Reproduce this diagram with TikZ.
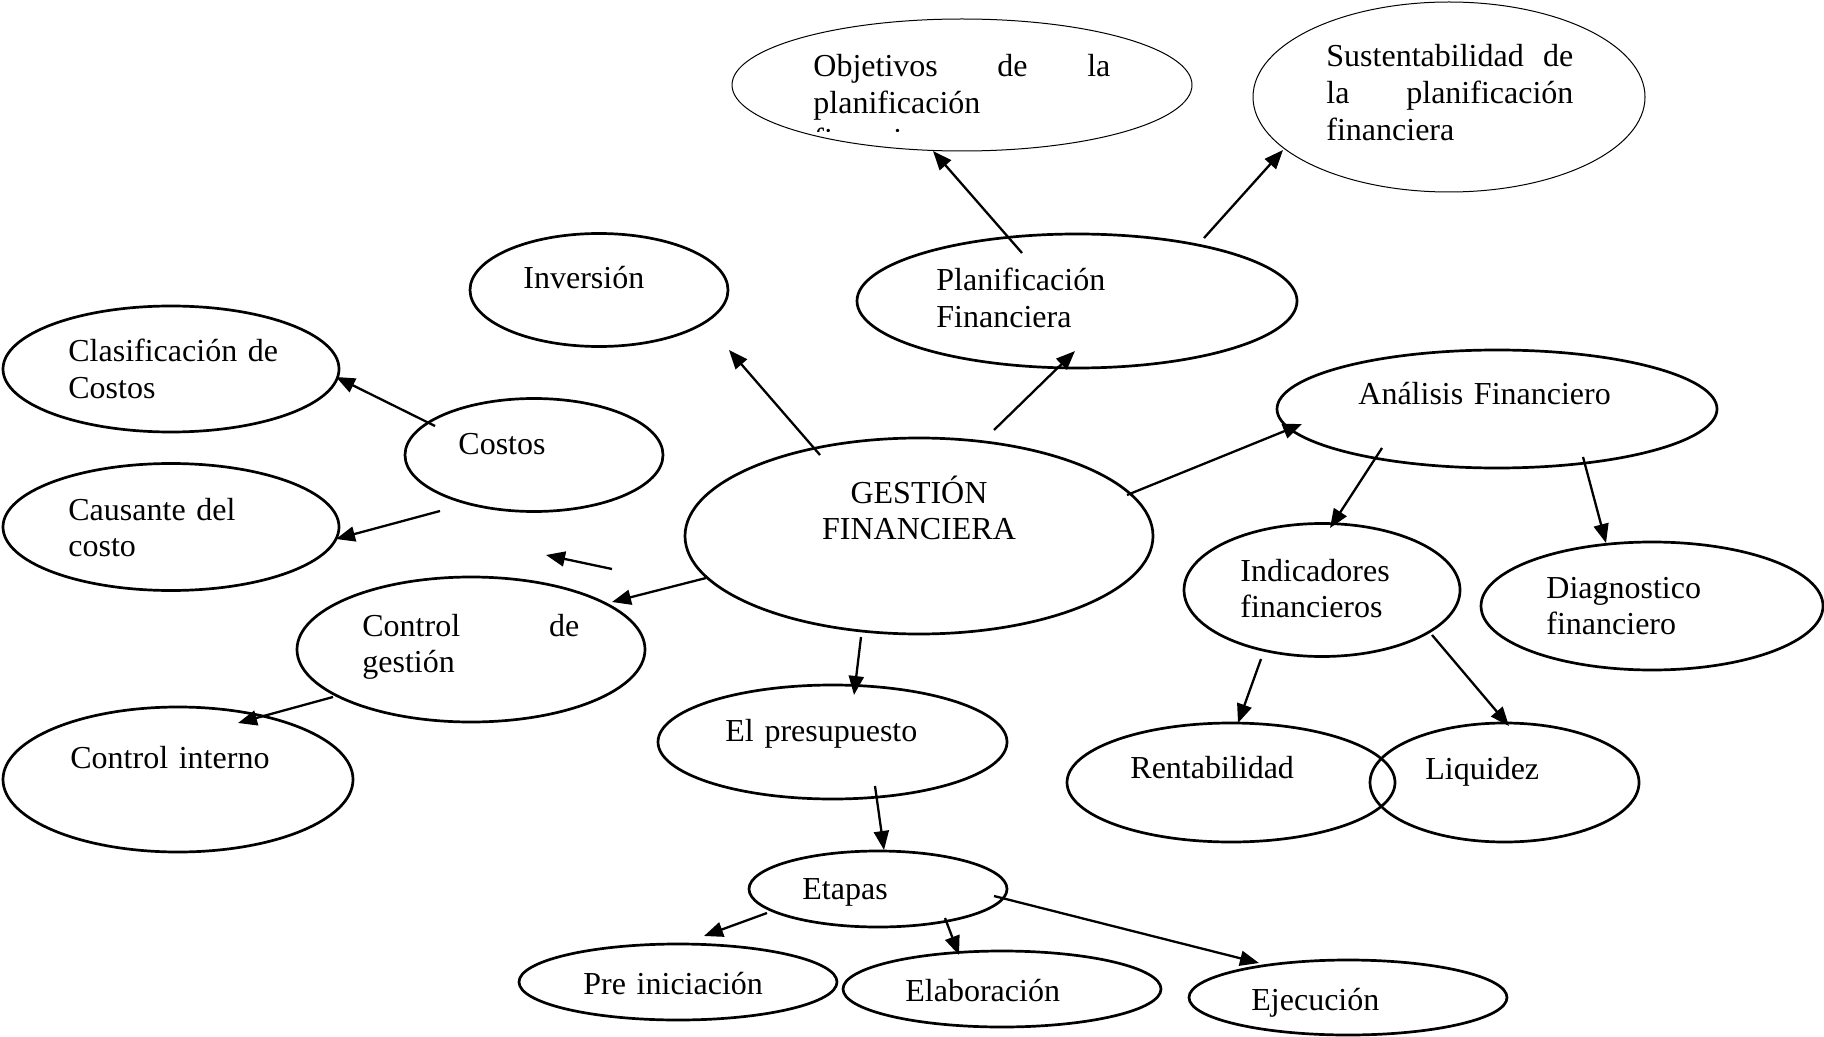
\documentclass[tikz,border=0pt]{standalone}
\usepackage{fontspec}
\setmainfont{Liberation Serif}
\usetikzlibrary{shapes.geometric,arrows.meta,calc}
\hyphenpenalty=10000 \exhyphenpenalty=10000 \hbadness=10000
\begin{document}
\begin{tikzpicture}[x=0.5pt,y=-0.5pt,
  ell/.style={draw, ellipse, line width=1.35pt, inner sep=0pt},
  thinell/.style={draw, ellipse, line width=0.5pt, inner sep=0pt},
  txt/.style={anchor=base west, inner sep=0pt, align=left, text width=#1,
              font=\fontsize{16}{18.4}\selectfont},
  txt/.default=220pt,
  arr/.style={line width=1.15pt, -{Triangle[length=9.5pt,width=7.5pt]}}]
\fill[white] (0,0) rectangle (1824,1037);
\useasboundingbox (0,0) rectangle (1824,1037);

% ellipses (sizes in pt = half the pixel size)
\node[thinell, minimum width=230pt, minimum height=66pt] (obj)  at (962,85) {};
\node[thinell, minimum width=196pt, minimum height=95pt] (sus)  at (1449,97) {};
\node[ell, minimum width=129pt, minimum height=56.5pt] (inv)  at (599,290) {};
\node[ell, minimum width=220pt, minimum height=67pt] (plan) at (1077,301) {};
\node[ell, minimum width=168pt, minimum height=63pt] (clas) at (171,369) {};
\node[ell, minimum width=129pt, minimum height=56.5pt] (cost) at (534,455) {};
\node[ell, minimum width=168pt, minimum height=63.5pt] (caus) at (171,527) {};
\node[ell, minimum width=234pt, minimum height=98pt] (gest) at (919,536) {};
\node[ell, minimum width=220pt, minimum height=59pt] (anal) at (1497,409) {};
\node[ell, minimum width=138pt, minimum height=66.5pt] (ind)  at (1322,590) {};
\node[ell, minimum width=171pt, minimum height=64pt] (diag) at (1652,606) {};
\node[ell, minimum width=174pt, minimum height=72.5pt] (cg)   at (471,649.5) {};
\node[ell, minimum width=175pt, minimum height=72.5pt] (ci)   at (178,779.5) {};
\node[ell, minimum width=174.5pt, minimum height=57pt] (pres) at (832.5,742) {};
\node[ell, minimum width=164pt, minimum height=59.5pt] (rent) at (1231,782.5) {};
\node[ell, minimum width=134.5pt, minimum height=59.5pt] (liq)  at (1504.5,782.5) {};
\node[ell, minimum width=129pt, minimum height=38pt]  (eta)  at (878,889) {};
\node[ell, minimum width=159pt, minimum height=38pt]  (pre)  at (678,982) {};
\node[ell, minimum width=159pt, minimum height=38pt]  (ela)  at (1002,989) {};
\node[ell, minimum width=159pt, minimum height=37.5pt]  (eje)  at (1348,997.5) {};

% texts
\begin{scope}
\clip (700,0) rectangle (1200,132);
\node[txt=148.5pt] (tobj) at (813,77) {Objetivos\hfill de\hfill la\\planificación\\financiera};
\end{scope}
\node[txt=123.5pt] (tsus) at (1326,67) {Sustentabilidad\hfill de\\la\hfill planificación\\financiera};
\node[txt] (tinv)  at (523,289)  {Inversión};
\node[txt] (tplan) at (936,291)  {Planificación\\Financiera};
\node[txt] (tclas) at (68,362)   {Clasificación de\\Costos};
\node[txt] (tcost) at (458,454)  {Costos};
\node[txt] (tcaus) at (68,520)   {Causante del\\costo};
\node[txt=200pt, anchor=base, align=center] (tgest) at (919,503) {GESTIÓN\\FINANCIERA};
\node[txt] (tanal) at (1358,404) {Análisis Financiero};
\node[txt] (tind)  at (1240,581) {Indicadores\\financieros};
\node[txt] (tdiag) at (1546,598) {Diagnostico\\financiero};
\node[txt=108.5pt] (tcg) at (362,636) {Control\hfill de\\gestión};
\node[txt] (tci)   at (70,768)   {Control interno};
\node[txt] (tpres) at (725,741)  {El presupuesto};
\node[txt] (trent) at (1130,778) {Rentabilidad};
\node[txt] (tliq)  at (1425,779) {Liquidez};
\node[txt] (teta)  at (802,899)  {Etapas};
\node[txt] (tpre)  at (583,994)  {Pre iniciación};
\node[txt] (tela)  at (905,1001) {Elaboración};
\node[txt] (teje)  at (1251,1010) {Ejecución};

% free arrow ends
\coordinate (g1) at (612,569);
\coordinate (g2) at (546,555);

% arrows
\draw[arr] ($(plan.center)+(-55,-48)$) -- ($(obj.center)+(-29,66)$);
\draw[arr] ($(plan.center)+(127,-63)$) -- ($(sus.center)+(-166,53)$);
\draw[arr] ($(gest.center)+(-99,-81)$) -- ($(inv.center)+(130,60)$);
\draw[arr] ($(gest.center)+(75,-106)$) -- ($(plan.center)+(-2,50)$);
\draw[arr] ($(cost.center)+(-99,-29)$) -- ($(clas.center)+(165,8)$);
\draw[arr] ($(cost.center)+(-94,56)$) -- ($(caus.center)+(165,12)$);
\draw[arr] (g1) -- (g2);
\draw[arr] ($(gest.center)+(-213,42)$) -- ($(cg.center)+(141,-47.5)$);
\draw[arr] ($(cg.center)+(-138,47.5)$) -- ($(ci.center)+(60,-56.5)$);
\draw[arr] ($(gest.center)+(208,-41)$) -- ($(anal.center)+(-195,15)$);
\draw[arr] ($(anal.center)+(-115,39)$) -- ($(ind.center)+(8,-62)$);
\draw[arr] ($(anal.center)+(86,48)$) -- ($(diag.center)+(-46,-63)$);
\draw[arr] ($(ind.center)+(-61,69)$) -- ($(rent.center)+(7,-59.5)$);
\draw[arr] ($(ind.center)+(110,45)$) -- ($(liq.center)+(4.5,-56.5)$);
\draw[arr] ($(gest.center)+(-58,101)$) -- ($(pres.center)+(21.5,-47)$);
\draw[arr] ($(pres.center)+(42.5,44)$) -- ($(eta.center)+(6,-39)$);
\draw[arr] ($(eta.center)+(-111,24)$) -- ($(pre.center)+(26,-46)$);
\draw[arr] ($(eta.center)+(67,29)$) -- ($(ela.center)+(-43,-34)$);
\draw[arr] ($(eta.center)+(116,7)$) -- ($(eje.center)+(-89,-34.5)$);
\end{tikzpicture}
\end{document}
